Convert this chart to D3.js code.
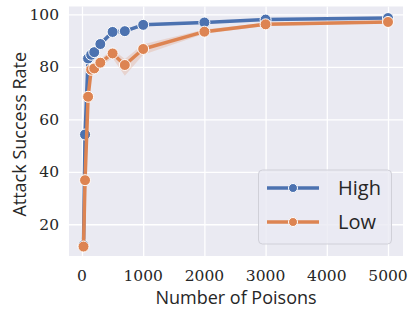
<!DOCTYPE html>
<html>
<head>
<meta charset="utf-8">
<script src="https://cdn.jsdelivr.net/npm/d3@7"></script>
<style>
  body { margin: 0; background: #fff; }
  svg { display: block; }
</style>
</head>
<body>
<svg id="chart" width="415" height="315"></svg>
<script>
// data
const poisons = [25, 50, 100, 150, 200, 300, 500, 700, 1000, 2000, 3000, 5000];
const highRate = [12.0, 54.2, 83.2, 84.6, 85.6, 88.7, 93.3, 93.6, 96.0, 96.9, 98.0, 98.6];
const highLow = [11.5, 53.0, 82.0, 83.5, 84.6, 87.8, 92.4, 93.0, 95.5, 96.5, 97.7, 98.3];
const highHigh = [12.5, 55.4, 84.3, 85.6, 86.6, 89.6, 94.4, 94.2, 96.5, 97.3, 98.3, 98.9];
const lowRate = [11.5, 36.8, 68.6, 78.9, 79.4, 81.6, 85.1, 80.7, 86.8, 93.4, 96.2, 97.1];
const lowLow = [11.0, 35.5, 67.0, 76.8, 78.0, 80.2, 83.4, 76.6, 84.6, 92.6, 95.6, 96.6];
const lowHigh = [12.0, 38.0, 70.0, 80.6, 80.8, 83.0, 86.7, 83.0, 88.6, 94.2, 96.8, 97.6];
const xTicks = [0, 1000, 2000, 3000, 4000, 5000];
const yTicks = [20, 40, 60, 80, 100];

const series = [
  { name: "High", color: "#4c72b0", band: "rgba(76,114,176,0.22)", y: highRate, lo: highLow, hi: highHigh },
  { name: "Low", color: "#dd8452", band: "rgba(221,132,82,0.22)", y: lowRate, lo: lowLow, hi: lowHigh }
];

const svg = d3.select("#chart");
const m = { left: 69, right: 403, top: 6.5, bottom: 256 };

const x = d3.scaleLinear().domain([-212, 5245]).range([m.left, m.right]);
const y = d3.scaleLinear().domain([7.9, 103]).range([m.bottom, m.top]);

svg.append("rect")
  .attr("x", m.left).attr("y", m.top)
  .attr("width", m.right - m.left).attr("height", m.bottom - m.top)
  .attr("fill", "#eaeaf2");

// grid
svg.append("g")
  .attr("transform", `translate(0,${m.bottom})`)
  .call(d3.axisBottom(x).tickValues(xTicks).tickSize(-(m.bottom - m.top)).tickFormat(""))
  .call(g => g.select(".domain").remove())
  .call(g => g.selectAll("line").attr("stroke", "#fff").attr("stroke-width", 1.3));

svg.append("g")
  .attr("transform", `translate(${m.left},0)`)
  .call(d3.axisLeft(y).tickValues(yTicks).tickSize(-(m.right - m.left)).tickFormat(""))
  .call(g => g.select(".domain").remove())
  .call(g => g.selectAll("line").attr("stroke", "#fff").attr("stroke-width", 1.3));

// tick labels
svg.append("g")
  .selectAll("text")
  .data(xTicks)
  .join("text")
  .attr("x", d => x(d))
  .attr("y", 281)
  .attr("text-anchor", "middle")
  .attr("font-family", "'DejaVu Serif', 'Liberation Serif', serif")
  .attr("font-size", 15.5)
  .attr("fill", "#262626")
  .text(d => d);

svg.append("g")
  .selectAll("text")
  .data(yTicks)
  .join("text")
  .attr("x", 59)
  .attr("y", d => y(d) + 5.5)
  .attr("text-anchor", "end")
  .attr("font-family", "'DejaVu Serif', 'Liberation Serif', serif")
  .attr("font-size", 15.5)
  .attr("fill", "#262626")
  .text(d => d);

// axis titles
svg.append("text")
  .attr("x", (m.left + m.right) / 2)
  .attr("y", 304)
  .attr("text-anchor", "middle")
  .attr("font-family", "'Open Sans', 'DejaVu Sans', sans-serif")
  .attr("font-size", 18)
  .attr("fill", "#262626")
  .text("Number of Poisons");

svg.append("text")
  .attr("transform", `translate(26,${(m.top + m.bottom) / 2 + 3}) rotate(-90)`)
  .attr("text-anchor", "middle")
  .attr("font-family", "'Open Sans', 'DejaVu Sans', sans-serif")
  .attr("font-size", 18)
  .attr("fill", "#262626")
  .text("Attack Success Rate");

const area = d3.area()
  .x((d, i) => x(poisons[i]))
  .y0(d => y(d[0]))
  .y1(d => y(d[1]));

const line = d3.line()
  .x((d, i) => x(poisons[i]))
  .y(d => y(d));

series.forEach(s => {
  svg.append("path")
    .datum(s.lo.map((v, i) => [v, s.hi[i]]))
    .attr("d", area)
    .attr("fill", s.band);
});

series.forEach(s => {
  svg.append("path")
    .datum(s.y)
    .attr("d", line)
    .attr("fill", "none")
    .attr("stroke", s.color)
    .attr("stroke-width", 3.5)
    .attr("stroke-linejoin", "round");

  svg.append("g")
    .selectAll("circle")
    .data(s.y)
    .join("circle")
    .attr("cx", (d, i) => x(poisons[i]))
    .attr("cy", d => y(d))
    .attr("r", 5.5)
    .attr("fill", s.color)
    .attr("stroke", "#fff")
    .attr("stroke-width", 1);
});

// legend
const legend = svg.append("g");
legend.append("rect")
  .attr("x", 258.5).attr("y", 170)
  .attr("width", 133).attr("height", 74)
  .attr("rx", 4)
  .attr("fill", "#eaeaf2")
  .attr("fill-opacity", 0.8)
  .attr("stroke", "#d0d0d8")
  .attr("stroke-width", 1);

series.forEach((s, i) => {
  const ly = 188 + i * 34;
  legend.append("line")
    .attr("x1", 267).attr("x2", 319)
    .attr("y1", ly).attr("y2", ly)
    .attr("stroke", s.color)
    .attr("stroke-width", 3.5);
  legend.append("circle")
    .attr("cx", 293).attr("cy", ly)
    .attr("r", 4.5)
    .attr("fill", s.color)
    .attr("stroke", "#fff")
    .attr("stroke-width", 1);
  legend.append("text")
    .attr("x", 338).attr("y", ly + 7)
    .attr("font-family", "'Open Sans', 'DejaVu Sans', sans-serif")
    .attr("font-size", 20)
    .attr("fill", "#262626")
    .text(s.name);
});
</script>
</body>
</html>
